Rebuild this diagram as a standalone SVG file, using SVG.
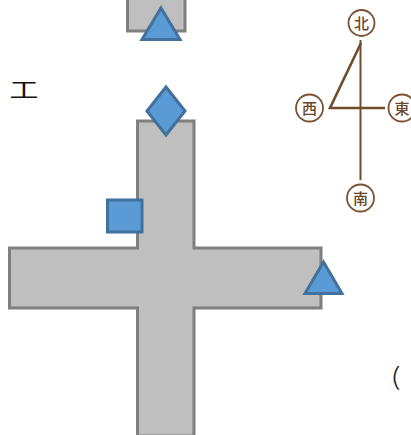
<svg xmlns="http://www.w3.org/2000/svg" width="411" height="435" viewBox="0 0 411 435">
<style>
.wall{fill:#bfbfbf;stroke:#7f7f7f;stroke-width:3}
.mark{fill:#5b9bd5;stroke:#41719c;stroke-width:3;stroke-linejoin:miter}
.ring{fill:#fff;stroke:#7b5233;stroke-width:1.800}
.dir{font-family:"Noto Sans CJK JP","Noto Sans CJK SC",sans-serif;font-size:15px;font-weight:500;fill:#6b4628;text-anchor:middle}
.line{fill:none;stroke:#704c2d}
.hand{font-family:"Noto Sans CJK JP","Noto Sans CJK SC",serif;fill:#111;font-weight:400}
</style>
<g id="room-top"><rect class="wall" x="127.500" y="-4" width="57.500" height="35"/></g>
<g id="room-cross"><path class="wall" d="M137.500 121H194V248H321V308H194V436H137.500V308H9.500V248H137.500Z"/></g>
<g id="marker-top"><path class="mark" d="M161 8L180 39.500H142Z"/></g>
<g id="marker-diamond"><path class="mark" d="M166 87L185 111L166 135L147 111Z"/></g>
<g id="marker-square"><rect class="mark" x="107.500" y="200" width="34.500" height="32"/></g>
<g id="marker-right"><path class="mark" d="M323.500 262L342 293.500H305Z"/></g>
<g id="connectors">
<path class="line" stroke-width="2" d="M360.500 40V180"/>
<path class="line" stroke-width="2.600" d="M361 43L330 108H385"/>
</g>
<g id="north"><circle class="ring" cx="361.500" cy="23" r="13"/><text class="dir" x="361.500" y="28.500">北</text></g>
<g id="west"><circle class="ring" cx="309.500" cy="108" r="13.500"/><text class="dir" x="309.500" y="113.500">西</text></g>
<g id="east"><circle class="ring" cx="402" cy="108" r="13.500"/><text class="dir" x="402" y="113.500">東</text></g>
<g id="south"><circle class="ring" cx="360.500" cy="198" r="13.500"/><text class="dir" x="360.500" y="203.500">南</text></g>
<text class="hand" transform="translate(9.500 96.500) scale(1 .72)" font-size="29">工</text>
<text transform="translate(389.500 386) scale(1.400 1)" font-family="Inter,sans-serif" font-weight="200" font-size="26" fill="#222">(</text>
</svg>
